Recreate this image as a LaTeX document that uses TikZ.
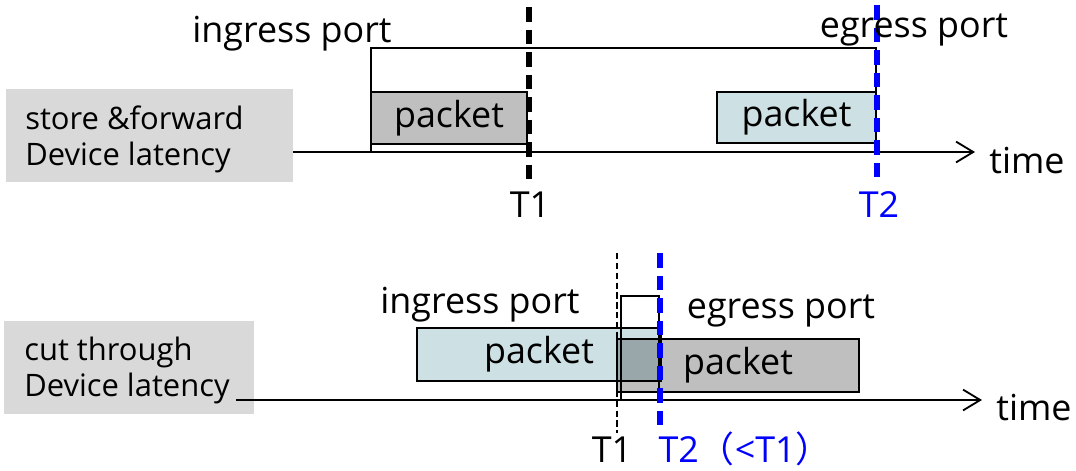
\documentclass[tikz,border=0pt]{standalone}
\usepackage{fontspec}
\setmainfont{Open Sans}
\newfontfamily\cjk{Noto Sans CJK SC}
\usetikzlibrary{arrows.meta}
\usetikzlibrary{fit}
\definecolor{pktgray}{RGB}{191,191,191}
\definecolor{pktblue}{RGB}{205,224,227}
\definecolor{lblgray}{RGB}{217,217,217}
\tikzset{
    lblbox/.style = {rectangle, fill=lblgray, inner sep=0pt},
    lbltext/.style = {align=left, anchor=base west, inner sep=0pt, font=\fontsize{22}{25}\selectfont},
    txt/.style = {anchor=base, inner sep=0pt, font=\fontsize{25.5}{30}\selectfont},
    portbox/.style = {rectangle, draw=black, line width=1.1pt, inner sep=0pt},
    pktg/.style = {portbox, fill=pktgray, font=\fontsize{25.5}{30}\selectfont},
    pktb/.style = {portbox, fill=pktblue, font=\fontsize{25.5}{30}\selectfont},
    axis/.style = {line width=1.6pt, -{Straight Barb[length=4.3mm,width=5.2mm,line width=1.3pt]}},
    tmark/.style = {line width=3.6pt, dash pattern=on 10.5pt off 5.5pt}, % T1 / T2
    tmarkb/.style = {tmark, blue},
    tmarkthin/.style = {line width=0.8pt, dash pattern=on 4.5pt off 2.5pt}
}
\begin{document}
\begin{tikzpicture}[x=0.025cm, y=-0.025cm]
\useasboundingbox (0,0) rectangle (1076,470);
%
% store & forward
\node[lblbox, fit={(6,89) (293,182)}] (lblA) {};
\node[lbltext] at (25,165) (lblAtxt) {store \&forward\\Device latency};
\node[portbox, fit={(371,48) (876,152)}] (portA) {};
\node[pktg, minimum width=3.9cm, minimum height=1.3cm] at (449,118) (pktA) {packet};
\node[pktb, minimum width=3.975cm, minimum height=1.275cm] at (796.5,117.5) (pktB) {packet};
%
\coordinate (axA0) at (293,152);
\coordinate (axA1) at (975,152);
\draw[axis] (axA0) -- (axA1);
\coordinate (t1Atop) at (529,7);
\coordinate (t1Abot) at (529,182);
\coordinate (t2Atop) at (877,5);
\coordinate (t2Abot) at (877,177);
\draw[tmark] (t1Atop) -- (t1Abot);
\draw[tmarkb] (t2Atop) -- (t2Abot);
%
\node[txt] at (292,42) (ingA) {ingress port};
\node[txt] at (914,37) (egrA) {egress port};
\node[txt] at (530,217) (T1A) {T1};
\node[txt, text=blue] at (879,217) (T2A) {T2};
\node[txt] at (1027,173) (timeA) {time};
%
% cut through
\node[lblbox, fit={(4,321) (254,414)}] (lblB) {};
\node[lbltext] at (24,396) (lblBtxt) {cut through\\Device latency};
\node[pktb, minimum width=6.1cm, minimum height=1.325cm] at (539,354.5) (pktC) {packet};
\node[portbox, fit={(621,296) (659,400)}] (portC) {};
\begin{scope}[blend mode=multiply]
\node[pktg, minimum width=6.05cm, minimum height=1.325cm] at (738,365.5) (pktD) {packet};
\end{scope}
%
\coordinate (axB0) at (236,400);
\coordinate (axB1) at (982,400);
\draw[axis] (axB0) -- (axB1);
\coordinate (t1Btop) at (617,253);
\coordinate (t1Bbot) at (617,433);
\coordinate (t2Btop) at (660,253);
\coordinate (t2Bbot) at (660,425);
\draw[tmarkthin] (t1Btop) -- (t1Bbot);
\draw[tmarkb] (t2Btop) -- (t2Bbot);
%
\node[txt] at (480,313) (ingB) {ingress port};
\node[txt] at (781,318) (egrB) {egress port};
\node[txt] at (612,462) (T1B) {T1};
\node[txt, text=blue] at (745,462) (T2B) {T2{\cjk （}<T1{\cjk ）}};
\node[txt] at (1034,420) (timeB) {time};

\end{tikzpicture}
\end{document}
